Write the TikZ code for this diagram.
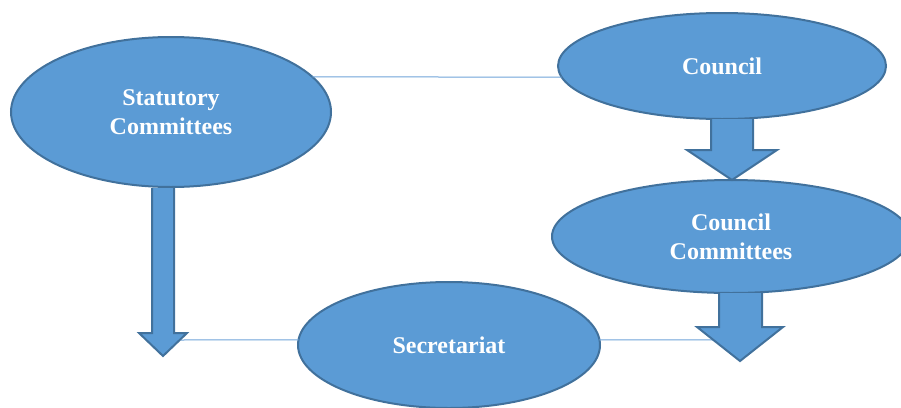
\documentclass[tikz,border=0pt]{standalone}
\usepackage{fontspec}
\setmainfont{Liberation Serif}
\usetikzlibrary{shapes.geometric}
\definecolor{fillblue}{HTML}{5B9BD5}
\definecolor{edgeblue}{HTML}{41719C}
\definecolor{lineblue}{HTML}{6FA3D8}
\begin{document}
\begin{tikzpicture}[x=1pt,y=-1pt,
  oval/.style={ellipse, draw=edgeblue, fill=fillblue, line width=2pt, inner sep=0pt, outer sep=0pt,
    text=white, font=\fontsize{24}{29}\selectfont\bfseries, align=center},
  link/.style={draw=lineblue, line width=1pt},
  barrow/.style={fill=fillblue, draw=edgeblue, line width=2pt, line join=miter}]
\useasboundingbox (0,0) rectangle (901,407);
\node[oval, minimum width=320pt, minimum height=150pt] (stat) at (171,112) {Statutory\\Committees};
\node[oval, minimum width=328pt, minimum height=106pt] (council) at (722,66) {Council};
\node[oval, minimum width=358pt, minimum height=113pt] (cc) at (731,236.5) {Council\\Committees};
\node[oval, minimum width=302pt, minimum height=126pt] (sec) at (449,345) {Secretariat};
\coordinate (h1) at (181,340);
\coordinate (h2) at (716,340);
\draw[link] (stat.14) -- (council.184);
\draw[link] (h1) -- (sec.178);
\draw[link] (sec.2) -- (h2);
% block arrows
\filldraw[barrow] (152,188) -- (152,333) -- (139,333) -- (163,356) -- (187,333) -- (174,333) -- (174,188);
\filldraw[barrow] (711,119) -- (711,150) -- (687,150) -- (732,180) -- (777,150) -- (753,150) -- (753,119);
\filldraw[barrow] (719,293) -- (719,327) -- (697,327) -- (740,361) -- (783,327) -- (762,327) -- (762,293);
\end{tikzpicture}
\end{document}
